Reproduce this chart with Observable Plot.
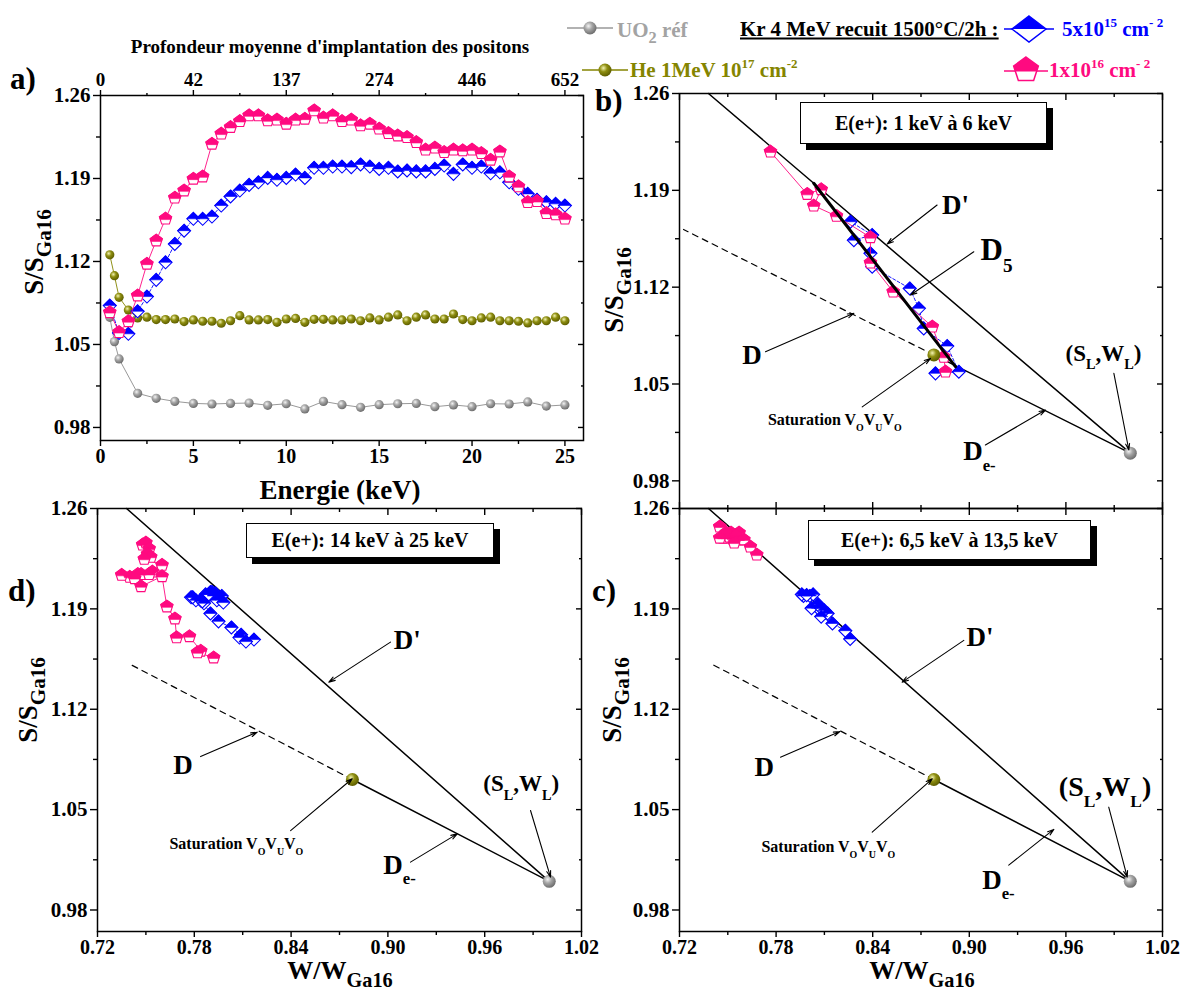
<!DOCTYPE html>
<html><head><meta charset="utf-8">
<script src="https://cdn.jsdelivr.net/npm/d3@7"></script>
<script src="https://cdn.jsdelivr.net/npm/@observablehq/plot@0.6"></script>
<style>
body{margin:0;background:#fff;}
#root{position:relative;width:1182px;height:996px;font-family:"Liberation Serif","Times New Roman",serif;font-weight:bold;overflow:hidden;background:#fff;}
#root svg text{font-family:"Liberation Serif","Times New Roman",serif !important;font-weight:bold;}
.abs{position:absolute;white-space:nowrap;line-height:1;transform:translateY(-50%);}
.ytitle{position:absolute;white-space:nowrap;line-height:1;transform:translate(-50%,-50%) rotate(-90deg);}
.ctr{position:absolute;white-space:nowrap;line-height:1;transform:translate(-50%,-50%);}
.box{position:absolute;border:1.3px solid #000;background:#fff;box-shadow:6px 6px 0 #000;display:flex;align-items:center;justify-content:center;font-size:20px;box-sizing:border-box;}
sub{font-size:78%;vertical-align:-0.38em;line-height:0;}
sup{font-size:62%;vertical-align:0.62em;line-height:0;}
svg.icon{vertical-align:middle;}
</style></head>
<body>
<svg width="0" height="0" style="position:absolute">
  <defs>
    <radialGradient id="gGray" cx="38%" cy="35%" r="65%">
      <stop offset="0" stop-color="#f4f4f4"/><stop offset="0.45" stop-color="#a6a6a6"/><stop offset="1" stop-color="#6e6e6e"/>
    </radialGradient>
    <radialGradient id="gOlive" cx="38%" cy="35%" r="65%">
      <stop offset="0" stop-color="#f2f2b0"/><stop offset="0.45" stop-color="#8e8e10"/><stop offset="1" stop-color="#5e5e00"/>
    </radialGradient>
  </defs>
</svg>
<div id="root"></div>
<script>
// ---------------- DATA ----------------
// Panel a) : S/S_Ga16 vs positron energy (keV)
const uo2E = [0.5,0.75,1,2,3,4,5,6,7,8,9,10,11,12,13,14,15,16,17,18,19,20,21,22,23,24,25];
const uo2S = [1.0729,1.0524,1.0378,1.0088,1.0046,1.0020,1.0003,0.9998,1.0003,1.0006,0.9987,1.0000,0.9956,1.0020,0.9992,0.9970,0.9992,1.0000,1.0003,0.9975,0.9990,0.9975,1.0000,0.9998,1.0015,0.9980,0.9990];

const heE = [0.5,0.75,1,1.5,2,2.5,3,3.5,4,4.5,5,5.5,6,6.5,7,7.5,8,8.5,9,9.5,10,10.5,11,11.5,12,12.5,13,13.5,14,14.5,15,15.5,16,16.5,17,17.5,18,18.5,19,19.5,20,20.5,21,21.5,22,22.5,23,23.5,24,24.5,25];
const heS = [1.1256,1.1080,1.0898,1.0790,1.0724,1.0730,1.0710,1.0710,1.0715,1.0693,1.0707,1.0696,1.0696,1.0679,1.0700,1.0743,1.0707,1.0707,1.0710,1.0687,1.0715,1.0720,1.0687,1.0712,1.0712,1.0707,1.0707,1.0715,1.0700,1.0724,1.0707,1.0730,1.0749,1.0700,1.0730,1.0749,1.0715,1.0715,1.0757,1.0710,1.0700,1.0724,1.0730,1.0700,1.0700,1.0696,1.0682,1.0700,1.0700,1.0730,1.0700];

const krE = [0.5,1,1.5,2,2.5,3,3.5,4,4.5,5,5.5,6,6.5,7,7.5,8,8.5,9,9.5,10,10.5,11,11.5,12,12.5,13,13.5,14,14.5,15,15.5,16,16.5,17,17.5,18,18.5,19,19.5,20,20.5,21,21.5,22,22.5,23,23.5,24,24.5,25];
const kr5S = [1.0828,1.0597,1.0590,1.0780,1.0904,1.1045,1.1193,1.1348,1.1460,1.1560,1.1560,1.1579,1.1672,1.1748,1.1798,1.1846,1.1868,1.1905,1.1889,1.1905,1.1933,1.1905,1.1990,1.1990,1.2001,1.2001,1.1996,1.2018,1.2001,1.1981,1.1990,1.1959,1.1968,1.1960,1.1960,1.1981,1.2009,1.1939,1.2018,1.1990,1.2001,1.1944,1.1952,1.1868,1.1813,1.1770,1.1720,1.1700,1.1686,1.1672];
const kr16S = [1.0771,1.0603,1.0695,1.0912,1.1180,1.1376,1.1560,1.1737,1.1798,1.1897,1.1916,1.2192,1.2277,1.2333,1.2383,1.2431,1.2431,1.2389,1.2395,1.2361,1.2395,1.2403,1.2473,1.2412,1.2431,1.2383,1.2395,1.2347,1.2361,1.2319,1.2282,1.2262,1.2248,1.2206,1.2142,1.2159,1.2122,1.2142,1.2136,1.2142,1.2113,1.2057,1.2127,1.1916,1.1832,1.1700,1.1708,1.1607,1.1596,1.1560];

const energyTicks = [0,5,10,15,20,25];
const energyMinor = [2.5,7.5,12.5,17.5,22.5];
const depthLabels = ["0","42","137","274","446","652"];

// Panels b), c), d) : S/S_Ga16 vs W/W_Ga16
const bPinkW = [0.8852,0.8842,0.8770,0.8527,0.8386,0.8386,0.8175,0.8034,0.8080,0.7993,0.7765];
const bPinkS = [1.0589,1.0695,1.0914,1.1167,1.1377,1.1560,1.1714,1.1789,1.1907,1.1873,1.2179];
const bBlueW = [0.8790,0.8935,0.8863,0.8717,0.8687,0.8630,0.8397,0.8386,0.8283,0.8397,0.8262];
const bBlueS = [1.0577,1.0589,1.0774,1.0902,1.1047,1.1191,1.1348,1.1445,1.1540,1.1577,1.1673];

const cPinkW = [0.768,0.764,0.757,0.752,0.757,0.753,0.749,0.754,0.747,0.751,0.745,0.755,0.749,0.760,0.745];
const cPinkS = [1.2277,1.2333,1.2383,1.2431,1.2431,1.2389,1.2395,1.2361,1.2395,1.2403,1.2473,1.2412,1.2431,1.2383,1.2395];
const cBlueW = [0.826,0.823,0.815,0.808,0.812,0.806,0.810,0.802,0.806,0.808,0.797,0.801,0.803,0.796,0.799];
const cBlueS = [1.1690,1.1748,1.1798,1.1846,1.1868,1.1905,1.1889,1.1905,1.1933,1.1905,1.1990,1.1990,1.2001,1.2001,1.1996];

const dPinkW = [0.748,0.750,0.752,0.751,0.753,0.749,0.760,0.745,0.754,0.740,0.747,0.735,0.752,0.743,0.747,0.760,0.763,0.768,0.769,0.777,0.784,0.782,0.792];
const dPinkS = [1.2347,1.2361,1.2319,1.2282,1.2262,1.2248,1.2206,1.2142,1.2159,1.2122,1.2142,1.2136,1.2142,1.2113,1.2057,1.2127,1.1916,1.1832,1.1700,1.1708,1.1607,1.1596,1.1560];
const dBlueW = [0.790,0.787,0.778,0.792,0.784,0.796,0.781,0.794,0.779,0.793,0.786,0.791,0.797,0.789,0.798,0.785,0.790,0.795,0.803,0.809,0.808,0.817,0.812];
const dBlueS = [1.2018,1.2001,1.1981,1.1990,1.1959,1.1968,1.1960,1.1960,1.1981,1.2009,1.1939,1.2018,1.1990,1.2001,1.1944,1.1952,1.1868,1.1813,1.1770,1.1720,1.1700,1.1686,1.1672];

// reference points and construction lines (W, S)
const slW = [1.000], slS = [1.000];          // (S_L, W_L)
const satW = [0.878], satS = [1.071];        // saturation V_O V_U V_O
const dPrimeW = [1.000,0.738], dPrimeS = [1.000,1.260];
const deW = [1.000,0.878], deS = [1.000,1.071];
const dashW_b = [0.878,0.7225], dashS_b = [1.071,1.1617];
const dashW_cd = [0.878,0.7405], dashS_cd = [1.071,1.1512];
const d5W = [0.8914,0.8034], d5S = [1.0625,1.1951];

const wsXTicks = [0.72,0.78,0.84,0.90,0.96,1.02];
const wsXMinor = [0.75,0.81,0.87,0.93,0.99];
const sTicks = [0.98,1.05,1.12,1.19,1.26];
const sMinor = [1.015,1.085,1.155,1.225];

// annotations (data coordinates)
const annB = {
  labels:[{t:"D'",w:0.8830,s:1.1794,k:"big"},{t:"D_{5}",w:0.9070,s:1.1468,k:"huge"},{t:"D",w:0.7590,s:1.0710,k:"big"},
          {t:"Saturation V_{O}V_{U}V_{O}",w:0.7749,s:1.0239,k:"small"},{t:"D_{e-}",w:0.8962,s:1.0010,k:"big"},{t:"(S_{L},W_{L})",w:0.9598,s:1.0721,k:"mid"}],
  arrows:[{x1:0.880,y1:1.1794,x2:0.849,y2:1.1512},{x1:0.9028,y1:1.1456,x2:0.8635,y2:1.1143},{x1:0.7734,y1:1.0733,x2:0.8283,y2:1.1011},
          {x1:0.8335,y1:1.0335,x2:0.8759,y2:1.0685},{x1:0.910,y1:1.0059,x2:0.9473,y2:1.0312},{x1:0.9898,y1:1.0577,x2:0.9991,y2:1.0023}]
};
const annD = {
  labels:[{t:"D'",w:0.9037,s:1.1680,k:"big"},{t:"D",w:0.7669,s:1.0808,k:"big"},{t:"Saturation V_{O}V_{U}V_{O}",w:0.7646,s:1.0262,k:"small"},
          {t:"D_{e-}",w:0.8971,s:1.0110,k:"big"},{t:"(S_{L},W_{L})",w:0.9591,s:1.0680,k:"mid"}],
  arrows:[{x1:0.9016,y1:1.1668,x2:0.8634,y2:1.1389},{x1:0.7839,y1:1.0870,x2:0.8190,y2:1.1040},{x1:0.8397,y1:1.0354,x2:0.8779,y2:1.0715},
          {x1:0.914,y1:1.0134,x2:0.943,y2:1.0331},{x1:0.9884,y1:1.0494,x2:1.0008,y2:1.0029}]
};
const annC = {
  labels:[{t:"D'",w:0.8983,s:1.1703,k:"big"},{t:"D",w:0.7666,s:1.0796,k:"big"},{t:"Saturation V_{O}V_{U}V_{O}",w:0.7709,s:1.0238,k:"small"},
          {t:"D_{e-}",w:0.9080,s:1.0006,k:"big"},{t:"(S_{L},W_{L})",w:0.9556,s:1.0656,k:"large"}],
  arrows:[{x1:0.8966,y1:1.1680,x2:0.8583,y2:1.1389},{x1:0.7827,y1:1.0866,x2:0.8196,y2:1.1045},{x1:0.8397,y1:1.0343,x2:0.8770,y2:1.0715},
          {x1:0.9245,y1:1.0113,x2:0.9525,y2:1.0362},{x1:0.9866,y1:1.0517,x2:0.9981,y2:1.0029}]
};

// ---------------- STYLE / HELPERS ----------------
const FONT = "'Liberation Serif','Times New Roman',serif";
const GRAY = "#8c8c8c", OLIVE = "#858500", BLUE = "#0000ff", PINK = "#ff0a80";
const baseStyle = {fontFamily:FONT, fontWeight:"bold", fontSize:"20px", overflow:"visible", background:"transparent", color:"#000"};
const labelSize = {small:16, mid:23, large:28, big:27, huge:31};
const axisFont = {fontFamily:FONT, fontWeight:"bold"};

function clipTop(pts, c){
  const out=[];
  for(let i=0;i<pts.length;i++){
    const a=pts[i], b=pts[(i+1)%pts.length];
    const ain=a[1]<=c, bin=b[1]<=c;
    if(ain) out.push(a);
    if(ain!==bin){const t=(c-a[1])/(b[1]-a[1]); out.push([a[0]+t*(b[0]-a[0]), c]);}
  }
  return out;
}
function polySymbol(verts, cut){
  return {draw(ctx,size){
    const r=Math.sqrt(size/Math.PI);
    let p=verts.map(([x,y])=>[x*r,y*r]);
    if(cut!==undefined) p=clipTop(p,cut*r);
    ctx.moveTo(p[0][0],p[0][1]);
    for(let i=1;i<p.length;i++) ctx.lineTo(p[i][0],p[i][1]);
    ctx.closePath();
  }};
}
const DIAMOND=[[0,-1],[1,0],[0,1],[-1,0]];
const PENT=[0,1,2,3,4].map(k=>{const a=-Math.PI/2+k*2*Math.PI/5; return [Math.cos(a),Math.sin(a)];});
const symDiamond=polySymbol(DIAMOND), symDiamondTop=polySymbol(DIAMOND,0);
const symPent=polySymbol(PENT), symPentTop=polySymbol(PENT,0.12);

function zip(xs, ys, kx, ky){ return xs.map((v,i)=>({[kx]:v,[ky]:ys[i]})); }

function seriesMarks(data, xk, yk, color, kind, opt={}){
  const r = opt.r || 6.5;
  const lineOpts = {x:xk, y:yk, stroke:color, strokeWidth:opt.lw||0.9};
  if(opt.dash) lineOpts.strokeDasharray=opt.dash;
  const out=[Plot.line(data, lineOpts)];
  if(kind==="diamond"){
    out.push(Plot.dot(data,{x:xk,y:yk,symbol:symDiamond,r,fill:"white",stroke:color,strokeWidth:1.1}));
    out.push(Plot.dot(data,{x:xk,y:yk,symbol:symDiamondTop,r,fill:color,stroke:color,strokeWidth:0.6}));
  } else if(kind==="pent"){
    out.push(Plot.dot(data,{x:xk,y:yk,symbol:symPent,r,fill:"white",stroke:color,strokeWidth:1.1}));
    out.push(Plot.dot(data,{x:xk,y:yk,symbol:symPentTop,r,fill:color,stroke:color,strokeWidth:0.6}));
  } else {
    out.push(Plot.dot(data,{x:xk,y:yk,r:opt.r||4.6,fill:kind,stroke:"none"}));
  }
  return out;
}

function richify(svg){
  svg.querySelectorAll("text").forEach(t=>{
    t.setAttribute("font-family", "Liberation Serif, Times New Roman, serif");
    const s=t.textContent;
    if(!/[_^]\{/.test(s)) return;
    const fs=parseFloat(getComputedStyle(t).fontSize)||20;
    while(t.firstChild) t.removeChild(t.firstChild);
    const re=/([_^])\{([^}]*)\}|([^_^]+)/g; let m, shift=0;
    while((m=re.exec(s))){
      const ts=document.createElementNS("http://www.w3.org/2000/svg","tspan");
      let target=0;
      if(m[1]){ target = m[1]==="_" ? fs*0.38 : -fs*0.42; ts.setAttribute("font-size", (fs*0.62).toFixed(1)); ts.textContent=m[2]; }
      else ts.textContent=m[3];
      const dy=target-shift; if(dy) ts.setAttribute("dy", dy.toFixed(1)); shift=target;
      t.appendChild(ts);
    }
  });
}

const root=document.getElementById("root");
function place(svg,left,top){ svg.style.position="absolute"; svg.style.left=left+"px"; svg.style.top=top+"px"; root.appendChild(svg); richify(svg); }
function html(cls, left, top, inner, style=""){ const d=document.createElement("div"); d.className=cls; d.style.left=left+"px"; d.style.top=top+"px"; d.style.cssText+=style; d.innerHTML=inner; root.appendChild(d); return d; }

function frameAxes(xT, xM, yT, yM, {xLabels=true, topFormat=null, xFormat=d3.format(".2f")}={}){
  const m=[Plot.frame({stroke:"#000", strokeWidth:1.5})];
  m.push(Plot.axisX(xT,{anchor:"bottom",tickSize: xLabels?6:-6,tickPadding:2,strokeWidth:1.4,fontSize:20,...axisFont,label:null,fill:xLabels?"currentColor":"none",tickFormat:xFormat}));
  m.push(Plot.axisX(xM,{anchor:"bottom",tickSize: xLabels?4:-3,strokeWidth:1.4,fill:"none",label:null}));
  if(topFormat){
    m.push(Plot.axisX(xT,{anchor:"top",tickSize:6,tickPadding:4,strokeWidth:1.4,fontSize:19,...axisFont,label:null,tickFormat:topFormat}));
    m.push(Plot.axisX(xM,{anchor:"top",tickSize:3,strokeWidth:1.4,fill:"none",label:null}));
  } else {
    m.push(Plot.axisX(xT,{anchor:"top",tickSize:-6,strokeWidth:1.4,fill:"none",label:null}));
    m.push(Plot.axisX(xM,{anchor:"top",tickSize:-3,strokeWidth:1.4,fill:"none",label:null}));
  }
  m.push(Plot.axisY(yT,{anchor:"left",tickSize:7,tickPadding:3,strokeWidth:1.4,fontSize:21,...axisFont,label:null,tickFormat:d3.format(".2f")}));
  m.push(Plot.axisY(yM,{anchor:"left",tickSize:4,strokeWidth:1.4,fill:"none",label:null}));
  m.push(Plot.axisY(yT,{anchor:"right",tickSize:-6,strokeWidth:1.4,fill:"none",label:null}));
  m.push(Plot.axisY(yM,{anchor:"right",tickSize:-3,strokeWidth:1.4,fill:"none",label:null}));
  return m;
}

// ---------------- PANEL a ----------------
const uo2=zip(uo2E,uo2S,"e","s"), he=zip(heE,heS,"e","s"), kr5=zip(krE,kr5S,"e","s"), kr16=zip(krE,kr16S,"e","s");
const depthOf = new Map(energyTicks.map((e,i)=>[e,depthLabels[i]]));
const svgA=Plot.plot({
  width:600,height:500,marginLeft:100,marginRight:17,marginTop:95,marginBottom:60,
  x:{domain:[0,26],axis:null}, y:{domain:[0.969,1.26],axis:null}, style:baseStyle,
  marks:[
    ...frameAxes(energyTicks, energyMinor, sTicks, sMinor, {topFormat:d=>depthOf.get(d), xFormat:d=>String(d)}),
    ...seriesMarks(uo2,"e","s",GRAY,"url(#gGray)"),
    ...seriesMarks(he,"e","s",OLIVE,"url(#gOlive)"),
    ...seriesMarks(kr5,"e","s",BLUE,"diamond",{dash:"3,2",r:6.5}),
    ...seriesMarks(kr16,"e","s",PINK,"pent",{r:6.5})
  ]
});
place(svgA,0,0);

// ---------------- W-S panels ----------------
function wsPanel(cfg){
  const L=(w,s)=>zip(w,s,"w","s");
  const marks=[
    ...frameAxes(wsXTicks, wsXMinor, sTicks, sMinor, {xLabels:cfg.xLabels}),
    Plot.line(L(cfg.dashW,cfg.dashS),{x:"w",y:"s",stroke:"#000",strokeWidth:1.2,strokeDasharray:"6,5"}),
    Plot.line(L(deW,deS),{x:"w",y:"s",stroke:"#000",strokeWidth:1.5}),
    Plot.line(L(dPrimeW,dPrimeS),{x:"w",y:"s",stroke:"#000",strokeWidth:1.5}),
    ...seriesMarks(L(cfg.blueW,cfg.blueS),"w","s",BLUE,"diamond",{dash:"3,2",r:6.5}),
    ...seriesMarks(L(cfg.pinkW,cfg.pinkS),"w","s",PINK,"pent",{r:6.5}),
  ];
  if(cfg.d5) marks.push(Plot.line(L(d5W,d5S),{x:"w",y:"s",stroke:"#000",strokeWidth:3}));
  marks.push(Plot.dot(L(satW,satS),{x:"w",y:"s",r:6.5,fill:"url(#gOlive)"}));
  marks.push(Plot.dot(L(slW,slS),{x:"w",y:"s",r:6.5,fill:"url(#gGray)"}));
  marks.push(Plot.arrow(cfg.ann.arrows,{x1:"x1",y1:"y1",x2:"x2",y2:"y2",stroke:"#000",strokeWidth:1.1,headLength:9,headAngle:35}));
  for(const l of cfg.ann.labels){
    marks.push(Plot.text([l],{x:"w",y:"s",text:"t",textAnchor:"start",fontSize:labelSize[l.k],fontFamily:FONT,fontWeight:"bold",fill:"#000"}));
  }
  const svg=Plot.plot({
    width:cfg.width,height:cfg.height,marginLeft:cfg.mL,marginRight:cfg.mR,marginTop:cfg.mT,marginBottom:cfg.mB,
    x:{domain:[0.72,1.02],axis:null}, y:{domain:cfg.yDomain,axis:null}, style:baseStyle, marks
  });
  place(svg,cfg.left,cfg.top);
}

wsPanel({left:590,top:60,width:592,height:453,mL:89,mR:20,mT:33,mB:5,yDomain:[0.96,1.26],xLabels:false,d5:true,
  pinkW:bPinkW,pinkS:bPinkS,blueW:bBlueW,blueS:bBlueS,dashW:dashW_b,dashS:dashS_b,ann:annB});
wsPanel({left:0,top:480,width:600,height:516,mL:97,mR:19,mT:28,mB:65,yDomain:[0.965,1.26],xLabels:true,
  pinkW:dPinkW,pinkS:dPinkS,blueW:dBlueW,blueS:dBlueS,dashW:dashW_cd,dashS:dashS_cd,ann:annD});
wsPanel({left:590,top:480,width:592,height:516,mL:89,mR:20,mT:28,mB:65,yDomain:[0.965,1.26],xLabels:true,
  pinkW:cPinkW,pinkS:cPinkS,blueW:cBlueW,blueS:cBlueS,dashW:dashW_cd,dashS:dashS_cd,ann:annC});

// ---------------- HTML TEXT ----------------
html("ctr",330,46,"Profondeur moyenne d'implantation des positons","font-size:19px;");
html("ctr",340,490,"Energie (keV)","font-size:27px;");
html("ctr",340,971,"W/W<sub>Ga16</sub>","font-size:26px;");
html("ctr",922,971,"W/W<sub>Ga16</sub>","font-size:26px;");
html("ytitle",34,252,"S/S<sub>Ga16</sub>","font-size:27px;");
html("ytitle",614,290,"S/S<sub>Ga16</sub>","font-size:27px;");
html("ytitle",28,700,"S/S<sub>Ga16</sub>","font-size:27px;");
html("ytitle",612,700,"S/S<sub>Ga16</sub>","font-size:27px;");
html("abs",10,78,"a)","font-size:31px;");
html("abs",595,100,"b)","font-size:31px;");
html("abs",8,590,"d)","font-size:31px;");
html("abs",592,590,"c)","font-size:31px;");

html("box",800,102,"E(e+): 1 keV à 6 keV","width:247px;height:42px;");
html("box",246,523,"E(e+): 14 keV à 25 keV","width:248px;height:35px;");
html("box",808,520,"E(e+): 6,5 keV à 13,5 keV","width:283px;height:40px;");

// legend
function ballIcon(grad,lc,w){return `<svg class="icon" width="${w}" height="20"><line x1="0" y1="10" x2="${w}" y2="10" stroke="${lc}" stroke-width="1.3"/><circle cx="${w/2}" cy="10" r="6.5" fill="url(#${grad})"/></svg>`;}
function diamondIcon(w){const c=w/2;return `<svg class="icon" width="${w}" height="30"><line x1="0" y1="15" x2="${w}" y2="15" stroke="${BLUE}" stroke-width="1.3"/><polygon points="${c},2 ${c+17},15 ${c},28 ${c-17},15" fill="white" stroke="${BLUE}" stroke-width="1.5"/><polygon points="${c},2 ${c+17},15 ${c-17},15" fill="${BLUE}"/></svg>`;}
function pentIcon(w){const c=w/2,r=13,cy=15;const p=PENT.map(([x,y])=>[c+x*r,cy+y*r]);const top=clipTop(PENT,0.12).map(([x,y])=>[c+x*r,cy+y*r]);
  return `<svg class="icon" width="${w}" height="30"><line x1="0" y1="16" x2="${w}" y2="16" stroke="${PINK}" stroke-width="1.3"/><polygon points="${p.map(d=>d.join(",")).join(" ")}" fill="white" stroke="${PINK}" stroke-width="1.5"/><polygon points="${top.map(d=>d.join(",")).join(" ")}" fill="${PINK}"/></svg>`;}
html("abs",567,28,ballIcon("gGray","#999",46),"");
html("abs",617,30,"UO<sub>2</sub> réf","font-size:21px;color:#a3a3a3;");
html("abs",740,29,"<u>Kr 4 MeV recuit 1500°C/2h :</u>","font-size:21px;color:#000;");
html("abs",1004,29,diamondIcon(50),"");
html("abs",1062,29,"5x10<sup>15</sup> cm<sup>- 2</sup>","font-size:21px;color:#0000ff;");
html("abs",582,70,ballIcon("gOlive",OLIVE,46),"");
html("abs",630,70,"He 1MeV 10<sup>17</sup> cm<sup>-2</sup>","font-size:21px;color:#858500;");
html("abs",1004,70,pentIcon(44),"");
html("abs",1049,70,"1x10<sup>16</sup> cm<sup>- 2</sup>","font-size:21px;color:#ff0a80;");
</script>
</body></html>
